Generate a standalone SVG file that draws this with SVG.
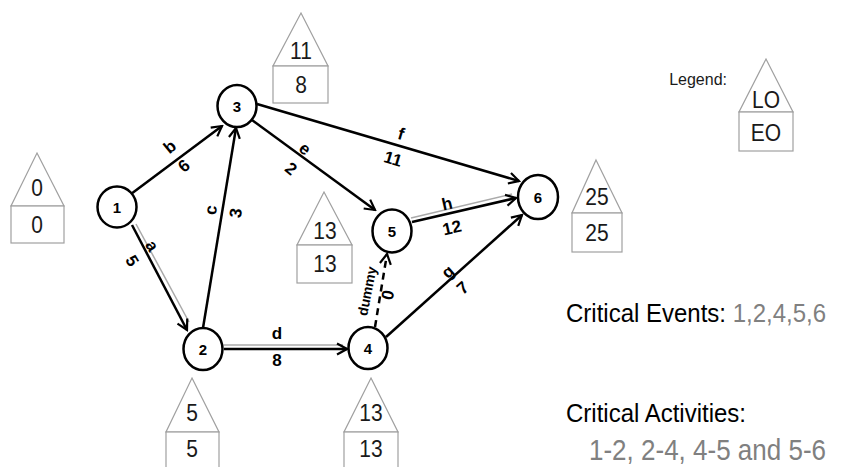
<svg xmlns="http://www.w3.org/2000/svg" width="845" height="467" viewBox="0 0 845 467">
<defs>
<style>
.node ellipse{fill:#fff;stroke:#000;stroke-width:2.5}
.node text{font-family:"Liberation Sans",Arial,sans-serif;font-size:15px;font-weight:bold;text-anchor:middle;dominant-baseline:central}
.edge{stroke:#000;stroke-width:2.5;fill:none}
.arr{marker-end:url(#arr)}
.crit{stroke:#aaa;stroke-width:1.5;fill:none}
.lbl{font-family:"Liberation Sans",Arial,sans-serif;font-size:17px;font-weight:bold;text-anchor:middle;dominant-baseline:central}
.house polygon,.house rect{fill:#fff;stroke:#a0a0a0;stroke-width:1.2}
.house text{font-family:"Liberation Sans",Arial,sans-serif;font-size:21px;fill:#1a1a1a;text-anchor:middle;dominant-baseline:central}
.big{font-family:"Liberation Sans",Arial,sans-serif;font-size:24px;fill:#000}
.gray{fill:#808080}
</style>
<marker id="arr" viewBox="-12 -7 14 14" refX="0" refY="0" markerWidth="14" markerHeight="14" markerUnits="userSpaceOnUse" orient="auto">
<path d="M-10,-5.5 L0,0 L-10,5.5" fill="none" stroke="#000" stroke-width="2.2"/>
</marker>
</defs>
<rect width="845" height="467" fill="#fff"/>

<g id="connectors">
<line class="crit" x1="136" y1="224" x2="189" y2="322"/>
<line class="edge arr" x1="132" y1="225" x2="187" y2="330"/>
<line class="edge arr" x1="131" y1="194" x2="222" y2="126"/>
<line class="edge arr" x1="203" y1="328" x2="236" y2="128"/>
<line class="crit" x1="224" y1="345" x2="343" y2="345"/>
<line class="edge arr" x1="224" y1="349" x2="347" y2="349"/>
<line class="edge arr" x1="252" y1="120" x2="375" y2="210"/>
<line class="edge arr" x1="257" y1="104" x2="519" y2="181"/>
<line class="crit" x1="411" y1="218" x2="512" y2="194"/>
<line class="edge arr" x1="412" y1="222" x2="516" y2="198"/>
<line class="edge arr" x1="386" y1="337" x2="522" y2="215"/>
<line class="edge arr" x1="375" y1="327" x2="387" y2="254" stroke-dasharray="7,5"/>
<text class="lbl" transform="translate(170,147) rotate(-40)">b</text>
<text class="lbl" transform="translate(184,166) rotate(-40)">6</text>
<text class="lbl" transform="translate(152,246) rotate(58.8)">a</text>
<text class="lbl" transform="translate(132,261) rotate(58.8)">5</text>
<text class="lbl" transform="translate(211,210) rotate(-82)">c</text>
<text class="lbl" transform="translate(236,213) rotate(-82)">3</text>
<text class="lbl" x="277" y="333">d</text>
<text class="lbl" x="277" y="360">8</text>
<text class="lbl" transform="translate(305,149) rotate(38.7)">e</text>
<text class="lbl" transform="translate(291,169) rotate(38.7)">2</text>
<text class="lbl" transform="translate(401,134) rotate(16.8)">f</text>
<text class="lbl" transform="translate(393,159) rotate(16.8)">11</text>
<text class="lbl" transform="translate(447,204) rotate(-12.7)">h</text>
<text class="lbl" transform="translate(452,228) rotate(-12.7)">12</text>
<text class="lbl" transform="translate(448,272) rotate(-41.6)">g</text>
<text class="lbl" transform="translate(463,288) rotate(-41.6)">7</text>
<text class="lbl" style="font-size:14px" transform="translate(367,291) rotate(-78.5)">dummy</text>
<text class="lbl" transform="translate(388,295) rotate(-78.5)">0</text>
</g>

<g id="node1" class="node"><ellipse cx="117" cy="207" rx="19.5" ry="20.5"/><text x="117" y="207">1</text></g>
<g id="node2" class="node"><ellipse cx="203" cy="349" rx="19.5" ry="21"/><text x="203" y="349">2</text></g>
<g id="node3" class="node"><ellipse cx="237" cy="106" rx="19.5" ry="21"/><text x="237" y="106">3</text></g>
<g id="node4" class="node"><ellipse cx="368" cy="348" rx="19.5" ry="21"/><text x="368" y="348">4</text></g>
<g id="node5" class="node"><ellipse cx="392" cy="231" rx="19.5" ry="21.5"/><text x="392" y="231">5</text></g>
<g id="node6" class="node"><ellipse cx="538" cy="197" rx="20" ry="22"/><text x="538" y="197">6</text></g>

<g id="house1" class="house"><polygon points="37,153 64,206 11,206"/><rect x="11" y="206" width="53" height="37"/><text transform="translate(37,188) scale(1,1.1)">0</text><text transform="translate(37,225) scale(1,1.1)">0</text></g>
<g id="house3" class="house"><polygon points="301,13 328,66 273,66"/><rect x="273" y="66" width="55" height="37"/><text transform="translate(301,51) scale(1,1.1)">11</text><text transform="translate(301,85) scale(1,1.1)">8</text></g>
<g id="house5" class="house"><polygon points="324,192 352,245 297,245"/><rect x="297" y="245" width="55" height="38"/><text transform="translate(325,231) scale(1,1.1)">13</text><text transform="translate(325,264) scale(1,1.1)">13</text></g>
<g id="house6" class="house"><polygon points="596,160 622,213 572,213"/><rect x="572" y="213" width="50" height="39"/><text transform="translate(597,197) scale(1,1.1)">25</text><text transform="translate(597,233) scale(1,1.1)">25</text></g>
<g id="house2" class="house"><polygon points="192,378 219,432 166,432"/><rect x="166" y="432" width="53" height="40"/><text transform="translate(192,413) scale(1,1.1)">5</text><text transform="translate(192,449) scale(1,1.1)">5</text></g>
<g id="house4" class="house"><polygon points="371,378 398,432 344,432"/><rect x="344" y="432" width="54" height="40"/><text transform="translate(371,413) scale(1,1.1)">13</text><text transform="translate(371,449) scale(1,1.1)">13</text></g>
<g id="legend" class="house"><polygon points="766,59 793,112 739,112"/><rect x="739" y="112" width="54" height="39"/><text transform="translate(766,100) scale(1,1.1)">LO</text><text transform="translate(766,133) scale(1,1.1)">EO</text>
<text x="727" y="85" style="font-size:16px;text-anchor:end;dominant-baseline:auto">Legend:</text></g>

<text class="big" transform="translate(566,322) scale(1,1.1)">Critical Events: <tspan class="gray">1,2,4,5,6</tspan></text>
<text class="big" transform="translate(566,422) scale(1,1.1)">Critical Activities:</text>
<text class="big gray" style="font-size:26px" transform="translate(589,460) scale(1,1.1)">1-2, 2-4, 4-5 and 5-6</text>
</svg>
